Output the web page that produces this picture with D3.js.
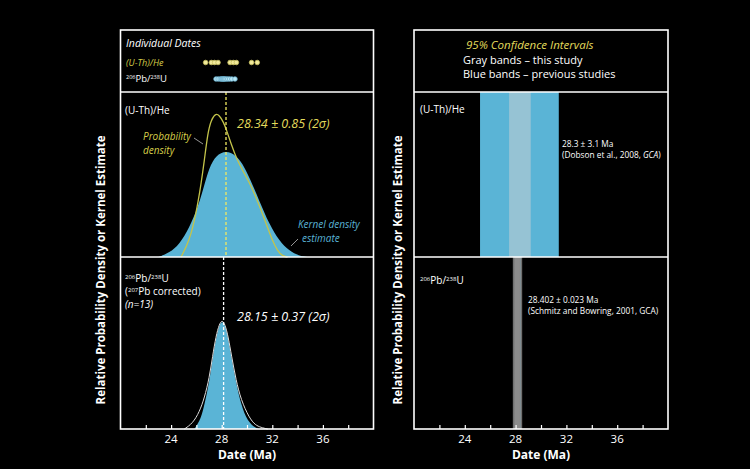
<!DOCTYPE html>
<html>
<head>
<meta charset="utf-8">
<script src="https://cdn.jsdelivr.net/npm/d3@7"></script>
<style>
html,body{margin:0;padding:0;background:#000;}
svg{display:block;font-family:"Open Sans","Noto Sans",sans-serif;}
</style>
</head>
<body>
<svg id="chart" width="750" height="469"></svg>
<script>
// ---------- data ----------
const xDomain = [20, 40];
const minorTicks = [22, 24, 26, 28, 30, 32, 34, 36, 38];
const labeledTicks = [24, 28, 32, 36];

const uthheDates = [26.73, 27.18, 27.44, 27.71, 28.66, 28.92, 29.16, 30.36, 30.81];
const pbDates = [27.55, 27.72, 27.88, 27.98, 28.05, 28.12, 28.18, 28.25, 28.35, 28.48, 28.62, 28.8, 29.05];

// [date (Ma), relative density]
const uthheKde = [[23.0,0],[23.87,0.026],[24.66,0.077],[25.45,0.179],[26.10,0.30],[26.50,0.40],[27.02,0.545],[27.55,0.616],[28.34,0.646],[29.13,0.616],[29.65,0.565],[30.18,0.484],[30.97,0.341],[31.76,0.199],[32.55,0.098],[33.34,0.037],[34.13,0.006],[34.76,0]];
const uthhePdf = [[24.79,0],[25.45,0.098],[25.97,0.26],[26.37,0.443],[26.63,0.585],[26.89,0.748],[27.16,0.829],[27.50,0.87],[27.81,0.86],[28.13,0.819],[28.39,0.768],[28.74,0.687],[29.18,0.595],[29.65,0.524],[30.18,0.453],[30.71,0.362],[31.23,0.26],[31.63,0.179],[32.02,0.098],[32.41,0.037],[32.81,0.006],[33.2,0]];
const pbKde = [[25.84,0],[26.37,0.062],[26.63,0.14],[27.02,0.275],[27.28,0.411],[27.55,0.527],[27.81,0.605],[28.03,0.628],[28.26,0.605],[28.52,0.527],[28.78,0.411],[29.13,0.275],[29.53,0.14],[30.05,0.042],[30.71,0.004],[30.97,0]];
const pbPdf = [[25.05,0],[25.71,0.033],[26.24,0.1],[26.63,0.18],[27.02,0.297],[27.28,0.424],[27.55,0.541],[27.81,0.61],[28.03,0.634],[28.26,0.61],[28.52,0.535],[28.78,0.424],[29.13,0.285],[29.53,0.169],[30.18,0.064],[30.66,0.023],[31.1,0.009],[31.63,0]];

const uthheMean = 28.34, uthheErr = 0.85;
const pbMean = 28.15, pbErr = 0.37;
const dobsonMean = 28.3, dobsonErr = 3.1;
const schmitzMean = 28.402, schmitzErr = 0.023;

// ---------- layout ----------
const svg = d3.select("#chart");
const W = 750, H = 469;
svg.append("rect").attr("width", W).attr("height", H).attr("fill", "#000");

const top0 = 30, div1 = 92, div2 = 257, bottom0 = 429;
const L = {x0: 120.5, x1: 373.5};
const R = {x0: 414, x1: 668};
const xL = d3.scaleLinear().domain(xDomain).range([L.x0, L.x1]);
const xR = d3.scaleLinear().domain(xDomain).range([R.x0, R.x1]);
const yMid = d3.scaleLinear().domain([0, 1]).range([div2, div1]);
const yBot = d3.scaleLinear().domain([0, 1]).range([bottom0, div2]);

const BLUE = "#5ab4d6", YEL = "#e4dc5c", YEL2 = "#d6ce48";

// ---------- left: curves ----------
const area = (x, y) => d3.area().x(d => x(d[0])).y0(y(0)).y1(d => y(d[1])).curve(d3.curveBasis);
const line = (x, y) => d3.line().x(d => x(d[0])).y(d => y(d[1])).curve(d3.curveBasis);

svg.append("path").datum(uthheKde).attr("d", area(xL, yMid)).attr("fill", BLUE);
svg.append("path").datum(uthhePdf).attr("d", line(xL, yMid)).attr("fill", "none")
  .attr("stroke", "#c4c44a").attr("stroke-width", 1.3);
svg.append("line").attr("x1", xL(uthheMean)).attr("x2", xL(uthheMean)).attr("y1", div1).attr("y2", div2)
  .attr("stroke", "#f0e860").attr("stroke-width", 1.3).attr("stroke-dasharray", "3,2");

svg.append("path").datum(pbKde).attr("d", area(xL, yBot)).attr("fill", BLUE);
svg.append("path").datum(pbPdf).attr("d", line(xL, yBot)).attr("fill", "none")
  .attr("stroke", "#dddddd").attr("stroke-width", 1);
svg.append("line").attr("x1", xL(pbMean)).attr("x2", xL(pbMean)).attr("y1", div2).attr("y2", bottom0)
  .attr("stroke", "#ffffff").attr("stroke-width", 1.3).attr("stroke-dasharray", "3,2");

// individual dates
svg.append("g").selectAll("circle").data(uthheDates).join("circle")
  .attr("cx", d => xL(d)).attr("cy", 62.5).attr("r", 2.3)
  .attr("fill", "#f2ea9a").attr("stroke", "#c8c060").attr("stroke-width", 0.8);
svg.append("g").selectAll("circle").data(pbDates).join("circle")
  .attr("cx", d => xL(d)).attr("cy", 79).attr("r", 2.3)
  .attr("fill", "#b8e6f4").attr("stroke", "#6aaecc").attr("stroke-width", 0.8);

// ---------- right: bands ----------
const defs = svg.append("defs");
const grad = defs.append("linearGradient").attr("id", "grayband").attr("x1", "0").attr("x2", "1").attr("y1", "0").attr("y2", "0");
grad.append("stop").attr("offset", "0").attr("stop-color", "#666");
grad.append("stop").attr("offset", "0.25").attr("stop-color", "#8c8c8c");
grad.append("stop").attr("offset", "0.7").attr("stop-color", "#8c8c8c");
grad.append("stop").attr("offset", "1").attr("stop-color", "#666");

svg.append("rect").attr("x", xR(dobsonMean - dobsonErr)).attr("width", xR(dobsonMean + dobsonErr) - xR(dobsonMean - dobsonErr))
  .attr("y", div1).attr("height", div2 - div1).attr("fill", BLUE);
svg.append("rect").attr("x", xR(uthheMean - uthheErr)).attr("width", xR(uthheMean + uthheErr) - xR(uthheMean - uthheErr))
  .attr("y", div1).attr("height", div2 - div1).attr("fill", "#c8cfd4").attr("opacity", 0.55);
svg.append("rect").attr("x", xR(pbMean - pbErr)).attr("width", xR(pbMean + pbErr) - xR(pbMean - pbErr))
  .attr("y", div2).attr("height", bottom0 - div2).attr("fill", "url(#grayband)");
svg.append("rect").attr("x", xR(schmitzMean - schmitzErr)).attr("width", xR(schmitzMean + schmitzErr) - xR(schmitzMean - schmitzErr))
  .attr("y", div2).attr("height", bottom0 - div2).attr("fill", "#8fb8c8").attr("opacity", 0.5);

// ---------- frames & axes ----------
function frame(P, x) {
  const g = svg.append("g").attr("fill", "none").attr("stroke", "#fff").attr("stroke-width", 1.6);
  g.append("rect").attr("x", P.x0).attr("y", top0).attr("width", P.x1 - P.x0).attr("height", bottom0 - top0);
  g.append("line").attr("x1", P.x0).attr("x2", P.x1).attr("y1", div1).attr("y2", div1);
  g.append("line").attr("x1", P.x0).attr("x2", P.x1).attr("y1", div2).attr("y2", div2);
  const ax = svg.append("g").attr("transform", `translate(0,${bottom0})`)
    .call(d3.axisBottom(x).tickValues(minorTicks).tickSizeInner(-4).tickSizeOuter(0).tickFormat(""));
  ax.select(".domain").remove();
  ax.selectAll("line").attr("stroke", "#fff").attr("stroke-width", 1.2);
  svg.append("g").selectAll("text").data(labeledTicks).join("text")
    .attr("x", d => x(d)).attr("y", 443).attr("text-anchor", "middle")
    .attr("fill", "#fff").attr("font-size", 11.5).text(d => d);
  svg.append("text").attr("x", (P.x0 + P.x1) / 2).attr("y", 459).attr("text-anchor", "middle")
    .attr("fill", "#fff").attr("font-size", 12).attr("font-weight", "bold").text("Date (Ma)");
}
frame(L, xL);
frame(R, xR);

// y labels
[105, 402].forEach(cx => {
  svg.append("text").attr("transform", `translate(${cx},270) rotate(-90)`)
    .attr("text-anchor", "middle").attr("fill", "#fff").attr("font-size", 11.5).attr("font-weight", "bold")
    .text("Relative Probability Density or Kernel Estimate");
});

// ---------- text ----------
function txt(x, y, s, opts = {}) {
  const t = svg.append("text").attr("x", x).attr("y", y).attr("fill", opts.fill || "#fff")
    .attr("font-size", opts.size || 10).attr("font-style", opts.italic ? "italic" : "normal");
  if (opts.anchor) t.attr("text-anchor", opts.anchor);
  if (s !== null) t.text(s);
  return t;
}
function isotope(t, mass, el, small) {
  t.append("tspan").attr("font-size", small).attr("dy", -3.5).text(mass);
  t.append("tspan").attr("dy", 3.5).text(el);
}

txt(126, 47, "Individual Dates", {italic: true, size: 10.5});
txt(126, 66, "(U-Th)/He", {italic: true, size: 9, fill: YEL2});
let t1 = txt(126, 82, null, {size: 9.5});
isotope(t1, "206", "Pb/", 5.5); isotope(t1, "238", "U", 5.5);

txt(125, 114, "(U-Th)/He", {size: 10});
txt(237, 128, "28.34 ± 0.85 (2σ)", {italic: true, size: 12.5, fill: YEL});
txt(143, 140, "Probability", {italic: true, size: 10, fill: YEL2});
txt(143, 154, "density", {italic: true, size: 10, fill: YEL2});
svg.append("line").attr("x1", 194).attr("y1", 138).attr("x2", 203).attr("y2", 144).attr("stroke", "#bbb").attr("stroke-width", 0.8);
txt(298, 228, "Kernel density", {italic: true, size: 10, fill: BLUE});
txt(302, 242, "estimate", {italic: true, size: 10, fill: BLUE});
svg.append("line").attr("x1", 298).attr("y1", 239).attr("x2", 291).attr("y2", 246).attr("stroke", "#bbb").attr("stroke-width", 0.8);

let t2 = txt(125, 282, null, {size: 10});
isotope(t2, "206", "Pb/", 6); isotope(t2, "238", "U", 6);
let t3 = txt(125, 295, "(", {size: 10});
isotope(t3, "207", "Pb corrected)", 6);
txt(125, 308, "(n=13)", {italic: true, size: 10});
txt(237, 321, "28.15 ± 0.37 (2σ)", {italic: true, size: 12.5});

// right texts
txt(466, 49, "95% Confidence Intervals", {italic: true, size: 11.5, fill: YEL});
txt(463, 64, "Gray bands – this study", {size: 11});
txt(463, 78, "Blue bands –  previous studies", {size: 11});

txt(420, 113, "(U-Th)/He", {size: 10});
txt(562, 147, "28.3 ± 3.1 Ma", {size: 8.3});
let t4 = txt(562, 158, "(Dobson et al., 2008, ", {size: 8.3});
t4.append("tspan").attr("font-style", "italic").text("GCA");
t4.append("tspan").text(")");

let t5 = txt(420, 284, null, {size: 10});
isotope(t5, "206", "Pb/", 6); isotope(t5, "238", "U", 6);
txt(528, 303, "28.402 ± 0.023 Ma", {size: 8.3});
txt(528, 314, "(Schmitz and Bowring, 2001, GCA)", {size: 8.3});
</script>
</body>
</html>
